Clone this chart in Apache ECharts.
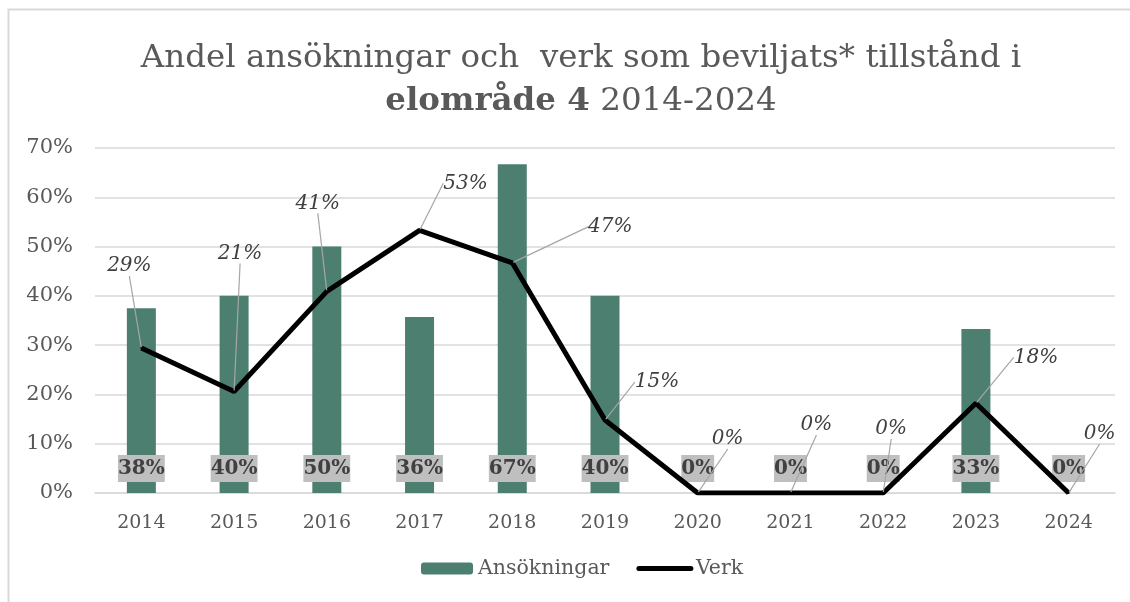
<!DOCTYPE html>
<html>
<head>
<meta charset="utf-8">
<script src="https://cdn.jsdelivr.net/npm/echarts@6/dist/echarts.min.js"></script>
<style>
  html, body { margin: 0; padding: 0; background: #fff; }
  #chart { width: 1130px; height: 602px; }
</style>
</head>
<body>
<div id="chart"></div>
<script>
const years = ['2014', '2015', '2016', '2017', '2018', '2019', '2020', '2021', '2022', '2023', '2024'];
const ansokningar = [37.5, 40, 50, 35.7, 66.7, 40, 0, 0, 0, 33.3, 0];
const verk = [29.4, 20.6, 40.9, 53.3, 46.7, 14.8, 0, 0, 0, 18.2, 0];
const yTicks = [0, 10, 20, 30, 40, 50, 60, 70];

// where the Verk labels sit, relative to their point (px)
const verkLabelShift = [
  [-12, -82], [6, -138], [-9, -88], [46, -47], [98, -36], [52, -38],
  [30, -54], [26, -68], [8, -64], [60, -46], [31, -59]
];

const FONT = 'DejaVu Serif';
const TXT = '#595959';

const chart = echarts.init(document.getElementById('chart'));

chart.setOption({
  animation: false,
  textStyle: { fontFamily: FONT },
  title: {
    left: 576,
    top: 32,
    textAlign: 'center',
    textStyle: {
      fontFamily: FONT,
      fontSize: 32.5,
      fontWeight: 'normal',
      color: TXT,
      lineHeight: 43,
      rich: {
        b: { fontFamily: FONT, fontSize: 32.5, fontWeight: 'bold', color: TXT, lineHeight: 43 },
        n: { fontFamily: FONT, fontSize: 32.5, color: TXT, lineHeight: 43 }
      }
    },
    text: 'Andel ansökningar och  verk som beviljats* tillstånd i\n{b|elområde 4} {n|2014-2024}'
  },
  graphic: [{
    type: 'rect',
    shape: { x: 8.5, y: 9.5, width: 1140, height: 620 },
    style: { fill: 'none', stroke: '#d9d9d9', lineWidth: 2 },
    silent: true
  }],
  grid: { left: 95, right: 15, top: 148, bottom: 109 },
  legend: {
    bottom: 18,
    left: 416,
    itemWidth: 52,
    itemHeight: 12,
    itemGap: 27,
    textStyle: { fontFamily: FONT, fontSize: 20.5, color: TXT },
    data: [
      'Ansökningar',
      { name: 'Verk', itemStyle: { opacity: 0 }, lineStyle: { width: 5, cap: 'round', color: '#000' } }
    ]
  },
  xAxis: {
    type: 'category',
    data: years,
    axisLine: { show: true, lineStyle: { color: '#d9d9d9', width: 1.5 } },
    axisTick: { show: false },
    axisLabel: { fontFamily: FONT, fontSize: 19, color: TXT, margin: 21 }
  },
  yAxis: {
    type: 'value',
    min: 0,
    max: 70,
    interval: 10,
    axisLine: { show: false },
    axisTick: { show: false },
    splitLine: { lineStyle: { color: '#d9d9d9', width: 1.5 } },
    axisLabel: {
      fontFamily: FONT, fontSize: 21, color: TXT, margin: 22,
      formatter: v => (yTicks.includes(v) ? v + '%' : '')
    }
  },
  series: [
    {
      name: 'Ansökningar',
      type: 'bar',
      data: ansokningar,
      barWidth: 29,
      itemStyle: { color: '#4d7f71' },
      label: {
        show: true,
        position: 'insideBottom',
        distance: 11,
        formatter: p => Math.round(p.value) + '%',
        fontFamily: FONT,
        fontSize: 20,
        fontWeight: 'bold',
        color: '#404040',
        backgroundColor: '#bfbfbf',
        padding: [4, 0, 3, 0]
      }
    },
    {
      name: 'Verk',
      type: 'line',
      data: verk,
      symbol: 'circle',
      symbolSize: 2,
      itemStyle: { color: '#000' },
      lineStyle: { color: '#000', width: 5 },
      z: 3,
      label: {
        show: true,
        position: 'inside',
        formatter: p => Math.round(p.value) + '%',
        fontFamily: FONT,
        fontSize: 20,
        fontStyle: 'italic',
        color: '#404040'
      },
      labelLine: { show: true, lineStyle: { color: '#a6a6a6', width: 1.2 } },
      labelLayout: p => ({
        dx: verkLabelShift[p.dataIndex][0],
        dy: verkLabelShift[p.dataIndex][1]
      })
    }
  ]
});
</script>
</body>
</html>
